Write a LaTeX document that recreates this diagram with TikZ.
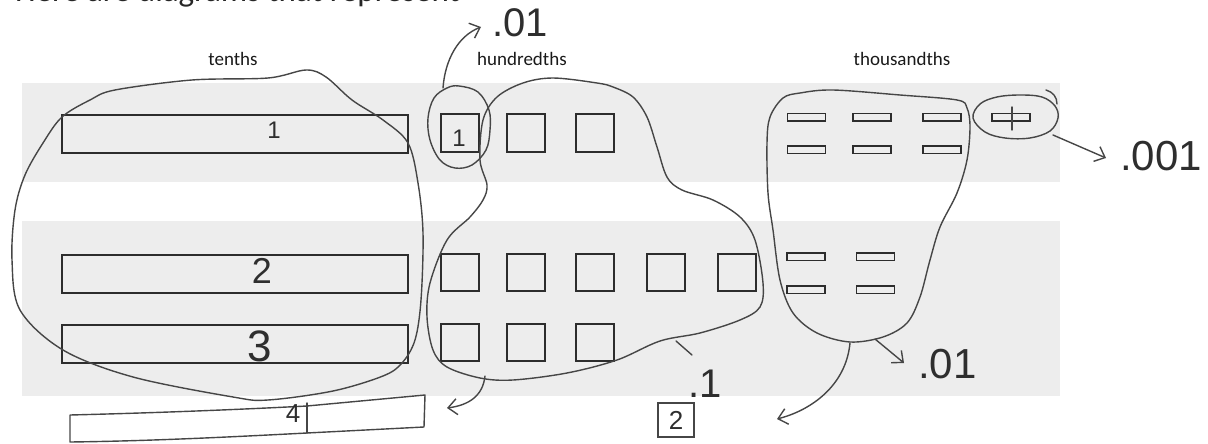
\documentclass[tikz,border=0pt]{standalone}
\usepackage{fontspec}
\newfontfamily\lblfont{Carlito}
\newfontfamily\handfont{Liberation Sans}
\usetikzlibrary{arrows.meta}
\definecolor{band}{RGB}{237,237,237}
\definecolor{ink}{RGB}{45,45,45}
\definecolor{pencil}{RGB}{70,70,70}
\begin{document}
\begin{tikzpicture}[x=1pt,y=-1pt,
  bar/.style={draw=ink,line width=1.6pt,minimum width=346pt,minimum height=38pt,inner sep=0pt},
  hsq/.style={draw=ink,line width=1.6pt,minimum width=37.5pt,minimum height=37.5pt,inner sep=0pt},
  thin/.style={draw=ink,line width=1.5pt,minimum width=38pt,minimum height=7.5pt,inner sep=0pt},
  hand/.style={draw=pencil,line width=1.4pt,line cap=round,line join=round},
  harrow/.style={hand,-{Straight Barb[length=9pt,width=16pt,line width=1.4pt]}},
  lbl/.style={font=\lblfont\fontsize{19}{19}\selectfont,text=black!90,inner sep=0pt},
  hw/.style={font=\handfont\fontsize{#1}{#1}\selectfont,text=black!82,inner sep=0pt},
  hw/.default=40]
\useasboundingbox (0,0) rectangle (1208,444);
% gray bands
\fill[band] (22,83) rectangle (1060,182);
\fill[band] (22,221) rectangle (1060,396);
% header (cut off at the top, as in the reference)
\node[anchor=base west,font=\lblfont\fontsize{33}{33}\selectfont,text=black!85,inner sep=0pt] (hdr) at (15,2) {Here are diagrams that represent};
% column labels
\node[lbl,anchor=base] (lt) at (233,66) {tenths};
\node[lbl,anchor=base] (lh) at (522,66) {hundredths};
\node[lbl,anchor=base] (lth) at (902,66) {thousandths};
% tenths bars
\node[bar] (b1) at (235,134) {};
\node[bar] (b2) at (235,274) {};
\node[bar] (b3) at (235,344) {};
% hundredths squares
\foreach \i/\x in {1/460,2/526,3/595} \node[hsq] (hA\i) at (\x,133) {};
\foreach \i/\x in {1/460,2/526,3/595,4/666,5/737} \node[hsq] (hB\i) at (\x,272.5) {};
\foreach \i/\x in {1/460,2/526,3/595} \node[hsq] (hC\i) at (\x,342.5) {};
% thousandths thin rectangles
\foreach \i/\x in {1/806.5,2/872,3/942,4/1011} \node[thin] (tA\i) at (\x,117) {};
\foreach \i/\x in {1/806.5,2/872,3/942} \node[thin] (tB\i) at (\x,149.5) {};
\foreach \i/\x in {1/806,2/875.5} \node[thin] (tC\i) at (\x,256.5) {};
\foreach \i/\x in {1/806,2/875.5} \node[thin] (tD\i) at (\x,289.5) {};
% handwritten numbers inside
\node[hw=24,anchor=base] (n1) at (274,138) {1};
\node[hw=36,anchor=base] (n2) at (262,283) {2};
\node[hw=44,anchor=base] (n3) at (260,361) {3};
\node[hw=24,anchor=base] (nh1) at (459,146) {1};
\draw[hand] (1012,107) -- (1012,130);
% tenths blob
\draw[hand] plot[smooth cycle,tension=0.55] coordinates {(62,117) (90,100) (115,90) (192,80) (268,78) (306,70) (326,77) (352,100) (383,120) (408,143) (418,183) (423,233) (421,300) (415,340) (402,363) (383,376) (333,391) (268,400) (233,397) (133,377) (63,350) (20,310) (12,260) (15,210) (25,175) (43,143)};
% circle around the first hundredth
\draw[hand] plot[smooth cycle,tension=0.6] coordinates {(459,86) (478,92) (489,110) (490,130) (486,150) (472,165) (455,168) (440,160) (430,140) (428,118) (434,98) (447,88)};
% hundredths blob
\draw[hand] plot[smooth cycle,tension=0.55] coordinates {(480,160) (483,120) (497,97) (523,83) (553,78) (597,83) (613,87) (633,97) (647,117) (657,147) (667,177) (682,190) (713,200) (740,217) (755,240) (763,283) (760,307) (740,320) (700,333) (660,341) (617,360) (567,373) (513,380) (480,378) (447,367) (433,350) (427,317) (430,283) (447,240) (470,217) (483,200) (487,185)};
% thousandths blob
\draw[hand] plot[smooth cycle,tension=0.55] coordinates {(767,143) (770,117) (783,98) (800,93) (833,90) (900,95) (957,100) (967,108) (970,127) (967,160) (957,193) (940,227) (930,260) (920,297) (907,323) (883,337) (850,342) (817,333) (793,313) (780,280) (773,230) (768,193)};
% ellipse around the last thousandth
\draw[hand] plot[smooth cycle,tension=0.6] coordinates {(973,118) (980,104) (997,97) (1020,95) (1042,97) (1055,106) (1058,118) (1050,131) (1030,138) (1005,138) (985,132)};
\draw[hand] (1046,90) .. controls (1053,92) and (1057,97) .. (1057,104);
% handwritten values
\node[hw=40,anchor=base west] (v01a) at (492,37) {.01};
\node[hw=42,anchor=base west] (v001) at (1120,170) {.001};
\node[hw=42,anchor=base west] (v01b) at (918,378) {.01};
\node[hw=40,anchor=base west] (v1) at (688,397) {.1};
\node[hw=26,draw=pencil,line width=1.4pt,minimum width=36pt,minimum height=34pt] (box2) at (676,420) {2};
% connector end points
\coordinate (s1) at (443,88);
\coordinate (e1) at (481,27);
\coordinate (s2) at (1053,135);
\coordinate (e2) at (1106,158);
\coordinate (s3) at (875,339);
\coordinate (e3) at (904,363);
\coordinate (s4) at (850,343);
\coordinate (e4) at (777,419);
\coordinate (s5) at (485,376);
\coordinate (e5) at (447,408);
\coordinate (s6) at (676,341);
\coordinate (e6) at (692,355);
% arrows
\draw[harrow] (s1) .. controls (445,60) and (458,36) .. (e1);
\draw[harrow] (s2) -- (e2);
\draw[harrow] (s3) -- (e3);
\draw[harrow] (s4) .. controls (846,385) and (812,410) .. (e4);
\draw[harrow] (s5) .. controls (483,395) and (470,405) .. (e5);
\draw[hand] (s6) -- (e6);
% hand-drawn fourth tenth
\draw[hand] (70,415) .. controls (150,413) and (230,410) .. (307,406) -- (425,395) -- (424,427) -- (307,433) .. controls (230,437) and (150,441) .. (70,442) -- cycle;
\draw[hand] (307,403) -- (307,433);
\node[hw=26,anchor=base] (n4) at (293,422) {4};
\end{tikzpicture}
\end{document}
